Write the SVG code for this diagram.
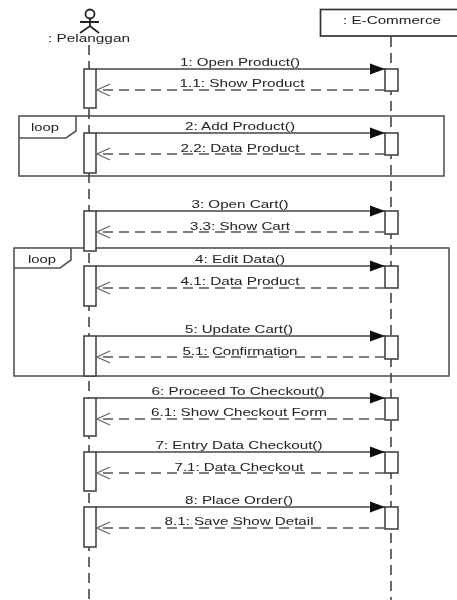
<svg xmlns="http://www.w3.org/2000/svg" width="457" height="600" viewBox="0 0 457 600">
<style>
text{font-family:"Liberation Sans",Arial,sans-serif;font-size:11px;fill:#222;text-anchor:middle}
.life{stroke:#444;stroke-width:1.6;stroke-dasharray:10 6;fill:none}
.msg{stroke:#444;stroke-width:1.5;fill:none}
.ret{stroke:#555;stroke-width:1.5;stroke-dasharray:10 6;fill:none}
.bar{fill:#fff;stroke:#444;stroke-width:1.6}
.frame{fill:none;stroke:#555;stroke-width:1.6}
</style>
<defs>
<marker id="solid" markerUnits="userSpaceOnUse" markerWidth="16" markerHeight="14" refX="15" refY="7" orient="auto"><path d="M0 1.5L15 7L0 12.5Z" fill="#111"/></marker>
<marker id="open" markerUnits="userSpaceOnUse" markerWidth="16" markerHeight="14" refX="14" refY="7" orient="auto"><path d="M1 1L14 7L1 13" fill="none" stroke="#666" stroke-width="1.3"/></marker>
<filter id="soft" x="-5%" y="-5%" width="110%" height="110%"><feGaussianBlur stdDeviation="0.45"/></filter>
</defs>
<rect width="457" height="600" fill="#fff"/>
<g filter="url(#soft)">
<g id="frames">
<g id="loop1"><rect class="frame" x="19" y="116" width="425" height="60"/><path class="frame" d="M19 138H66L76 131V116"/><text x="45" y="131" textLength="28" lengthAdjust="spacingAndGlyphs">loop</text></g>
<g id="loop2"><rect class="frame" x="14" y="248" width="435" height="128"/><path class="frame" d="M14 268H60L71 260V248"/><text x="42" y="263" textLength="28" lengthAdjust="spacingAndGlyphs">loop</text></g>
</g>
<g id="lifelines">
<path class="life" d="M89 45V600"/>
<path class="life" d="M391 37V600"/>
</g>
<g id="pelanggan">
<circle cx="90" cy="14" r="4.5" fill="#fff" stroke="#222" stroke-width="1.8"/>
<path d="M90 18V26M80 22H99M80 33L90 26L99 33" fill="none" stroke="#222" stroke-width="1.8"/>
<text x="89" y="42" textLength="82" lengthAdjust="spacingAndGlyphs">: Pelanggan</text>
</g>
<g id="e-commerce">
<rect x="320.500" y="9.500" width="140" height="26.500" fill="#fff" stroke="#333" stroke-width="1.7"/>
<text x="392" y="24" textLength="98" lengthAdjust="spacingAndGlyphs">: E-Commerce</text>
</g>
<g id="activations">
<rect class="bar" x="84" y="69" width="12" height="39"/><rect class="bar" x="385" y="69" width="13" height="22"/>
<rect class="bar" x="84" y="133" width="12" height="40"/><rect class="bar" x="385" y="133" width="13" height="22"/>
<rect class="bar" x="84" y="211" width="12" height="40"/><rect class="bar" x="385" y="211" width="13" height="23"/>
<rect class="bar" x="84" y="266" width="12" height="40"/><rect class="bar" x="385" y="266" width="13" height="22"/>
<rect class="bar" x="84" y="336" width="12" height="40"/><rect class="bar" x="385" y="336" width="13" height="23"/>
<rect class="bar" x="84" y="398" width="12" height="38"/><rect class="bar" x="385" y="398" width="13" height="22"/>
<rect class="bar" x="84" y="452" width="12" height="39"/><rect class="bar" x="385" y="452" width="13" height="21"/>
<rect class="bar" x="84" y="507" width="12" height="40"/><rect class="bar" x="385" y="507" width="13" height="22"/>
</g>
<g id="connectors">
<path class="msg" marker-end="url(#solid)" d="M96 69H385"/><path class="ret" marker-end="url(#open)" d="M385 90H97"/>
<path class="msg" marker-end="url(#solid)" d="M96 133H385"/><path class="ret" marker-end="url(#open)" d="M385 154H97"/>
<path class="msg" marker-end="url(#solid)" d="M96 211H385"/><path class="ret" marker-end="url(#open)" d="M385 232H97"/>
<path class="msg" marker-end="url(#solid)" d="M96 266H385"/><path class="ret" marker-end="url(#open)" d="M385 288H97"/>
<path class="msg" marker-end="url(#solid)" d="M96 336H385"/><path class="ret" marker-end="url(#open)" d="M385 357H97"/>
<path class="msg" marker-end="url(#solid)" d="M96 398H385"/><path class="ret" marker-end="url(#open)" d="M385 419H97"/>
<path class="msg" marker-end="url(#solid)" d="M96 452H385"/><path class="ret" marker-end="url(#open)" d="M385 473H97"/>
<path class="msg" marker-end="url(#solid)" d="M96 507H385"/><path class="ret" marker-end="url(#open)" d="M385 528H97"/>
</g>
<g id="labels">
<text x="240" y="66" textLength="120" lengthAdjust="spacingAndGlyphs">1: Open Product()</text>
<text x="242" y="87" textLength="125" lengthAdjust="spacingAndGlyphs">1.1: Show Product</text>
<text x="240" y="130" textLength="110" lengthAdjust="spacingAndGlyphs">2: Add Product()</text>
<text x="240" y="152" textLength="119" lengthAdjust="spacingAndGlyphs">2.2: Data Product</text>
<text x="240" y="208" textLength="97" lengthAdjust="spacingAndGlyphs">3: Open Cart()</text>
<text x="240" y="230" textLength="100" lengthAdjust="spacingAndGlyphs">3.3: Show Cart</text>
<text x="240" y="263" textLength="90" lengthAdjust="spacingAndGlyphs">4: Edit Data()</text>
<text x="240" y="285" textLength="119" lengthAdjust="spacingAndGlyphs">4.1: Data Product</text>
<text x="239" y="333" textLength="108" lengthAdjust="spacingAndGlyphs">5: Update Cart()</text>
<text x="240" y="355" textLength="115" lengthAdjust="spacingAndGlyphs">5.1: Confirmation</text>
<text x="238" y="395" textLength="173" lengthAdjust="spacingAndGlyphs">6: Proceed To Checkout()</text>
<text x="239" y="416" textLength="176" lengthAdjust="spacingAndGlyphs">6.1: Show Checkout Form</text>
<text x="239" y="449" textLength="167" lengthAdjust="spacingAndGlyphs">7: Entry Data Checkout()</text>
<text x="239" y="471" textLength="129" lengthAdjust="spacingAndGlyphs">7.1: Data Checkout</text>
<text x="239" y="504" textLength="108" lengthAdjust="spacingAndGlyphs">8: Place Order()</text>
<text x="239" y="525" textLength="149" lengthAdjust="spacingAndGlyphs">8.1: Save Show Detail</text>
</g>
</g>
</svg>
